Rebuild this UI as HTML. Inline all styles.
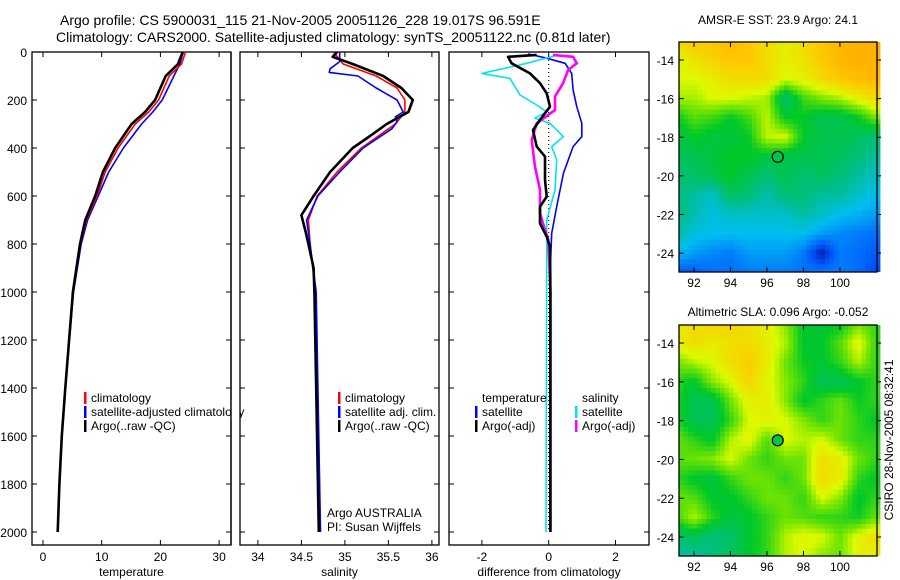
<!DOCTYPE html>
<html><head><meta charset="utf-8"><style>
html,body{margin:0;padding:0;background:#fff}
svg{display:block;font-family:"Liberation Sans",sans-serif}
text{fill:#000}
</style></head><body>
<svg id="chart" width="900" height="580" viewBox="0 0 900 580" xmlns="http://www.w3.org/2000/svg">
<text x="60" y="25" font-size="14">Argo profile: CS 5900031_115 21-Nov-2005 20051126_228 19.017S 96.591E</text>
<text x="56" y="42" font-size="14">Climatology: CARS2000. Satellite-adjusted climatology: synTS_20051122.nc (0.81d later)</text>
<text x="778" y="24" font-size="12" text-anchor="middle">AMSR-E SST: 23.9 Argo: 24.1</text>
<text x="778" y="316" font-size="12" text-anchor="middle">Altimetric SLA: 0.096 Argo: -0.052</text>
<text x="0" y="0" font-size="12" text-anchor="middle" transform="translate(893,440) rotate(-90)">CSIRO 28-Nov-2005 08:32:41</text>
<g id="g"></g>
</svg>
<script>
// ---------- data ----------
const tDepth = [0,50,100,200,250,300,400,500,600,700,800,1000,1400,1600,1800,2000];
const tArgo  = [23.8,23.0,20.9,19.1,17.4,15.1,12.3,10.2,8.9,7.2,6.3,5.1,3.8,3.2,2.8,2.5];
const tClim  = [24.3,23.6,21.5,19.7,18.0,15.7,12.8,10.6,9.2,7.4,6.4,5.1,3.8,3.2,2.8,2.5];
const tSat   = [23.9,23.3,22.3,20.3,18.7,16.8,13.7,11.2,9.4,7.6,6.5,5.2,3.8,3.2,2.8,2.5];

const sDepthArgo = [0,20,50,100,150,200,250,300,350,400,500,600,680,750,800,900,1000,1400,2000];
const sArgo      = [34.91,34.86,35.09,35.44,35.65,35.78,35.73,35.48,35.29,35.09,34.83,34.64,34.50,34.55,34.58,34.64,34.65,34.67,34.70];
const sDepthClim = [0,50,100,150,200,250,300,400,500,600,700,800,1000,2000];
const sClim      = [34.87,34.98,35.36,35.60,35.69,35.69,35.58,35.19,34.91,34.68,34.58,34.60,34.66,34.71];
const sDepthSat  = [0,40,70,85,100,150,200,250,270,290,320,400,500,600,700,800,1000,2000];
const sSat       = [34.94,34.94,34.83,34.82,35.15,35.36,35.60,35.67,35.58,35.60,35.54,35.21,34.94,34.69,34.56,34.60,34.67,34.72];

const dDepthTA = [12,20,47,89,130,172,228,283,325,394,436,533,603,644,714,769,811,1000,2000];
const dTempArgo= [-0.36,-1.22,-1.11,-0.56,-0.26,-0.06,0.04,-0.26,-0.47,-0.36,-0.11,-0.11,-0.06,-0.26,-0.26,-0.06,0.04,0.05,0.05];
const dDepthSA = [12,20,47,75,130,186,242,297,367,478,575,672,742,783,1000,2000];
const dSalArgo = [0.13,0.73,0.84,0.58,0.43,0.19,0.19,-0.36,-0.51,-0.41,-0.26,-0.26,-0.11,-0.01,0.05,0.05];
const dDepthSS = [12,47,89,110,179,221,249,276,297,353,394,450,575,700,922,2000];
const dSalSat  = [0.28,-0.66,-2.0,-1.16,-0.86,-0.36,-0.06,-0.41,0.04,0.44,0.09,0.24,0.19,-0.06,-0.06,-0.08];
const dDepthTS = [8,26,47,89,158,228,297,353,394,506,644,756,922,2000];
const dTempSat = [-0.62,-0.06,0.49,0.69,0.73,0.84,0.99,0.99,0.73,0.44,0.24,0.09,0.04,0.04];

const depthTicks = [0,200,400,600,800,1000,1200,1400,1600,1800,2000];
const tempTicks = [0,10,20,30];
const salTicks = [34,34.5,35,35.5,36];
const diffTicks = [-2,0,2];
const lonTicks = [92,94,96,98,100];
const latTicks = [-14,-16,-18,-20,-22,-24];

const sstGrid = [
[.80,.85,.85,.90,.85,.80,.75,.80,.85,.90,.92,.92],
[.72,.78,.82,.85,.85,.80,.75,.78,.85,.90,.92,.92],
[.72,.72,.75,.80,.80,.80,.72,.75,.80,.85,.88,.90],
[.68,.68,.72,.72,.70,.68,.45,.60,.65,.68,.75,.80],
[.55,.62,.60,.55,.60,.70,.55,.55,.50,.50,.55,.65],
[.50,.55,.52,.52,.55,.70,.72,.55,.50,.50,.48,.45],
[.48,.50,.52,.55,.55,.52,.50,.50,.50,.48,.45,.40],
[.45,.47,.50,.55,.50,.45,.50,.45,.48,.45,.40,.35],
[.45,.40,.35,.48,.45,.38,.45,.45,.40,.40,.35,.30],
[.45,.38,.32,.35,.35,.35,.35,.40,.35,.30,.28,.25],
[.40,.32,.30,.30,.30,.30,.30,.30,.25,.22,.20,.18],
[.30,.25,.22,.20,.25,.25,.25,.20,.05,.20,.18,.15],
[.15,.15,.18,.18,.20,.20,.20,.18,.20,.20,.18,.12]];
const slaGrid = [
[.72,.75,.78,.78,.75,.70,.62,.50,.50,.50,.60,.55],
[.70,.76,.72,.75,.76,.72,.65,.50,.50,.58,.70,.55],
[.60,.65,.68,.75,.80,.72,.60,.52,.50,.55,.65,.55],
[.55,.50,.62,.68,.78,.70,.62,.55,.45,.45,.50,.55],
[.55,.45,.45,.60,.70,.72,.62,.50,.55,.60,.52,.55],
[.55,.45,.45,.55,.68,.70,.68,.62,.55,.60,.55,.50],
[.60,.55,.50,.65,.70,.58,.68,.65,.68,.60,.55,.55],
[.58,.60,.62,.68,.60,.55,.60,.60,.75,.72,.60,.55],
[.55,.50,.48,.55,.60,.60,.55,.60,.76,.72,.55,.50],
[.60,.58,.50,.50,.55,.60,.60,.55,.68,.62,.50,.55],
[.55,.65,.55,.48,.50,.55,.60,.58,.55,.55,.52,.60],
[.42,.45,.40,.42,.50,.55,.65,.70,.68,.60,.70,.75],
[.35,.35,.40,.45,.50,.55,.65,.68,.62,.60,.70,.70]];
const gridLat0 = -13, gridLon0 = 91; // 1 degree spacing
const argoLon = 96.591, argoLat = -19.017;

// ---------- helpers ----------
const NS="http://www.w3.org/2000/svg";
const G=document.getElementById('g');
function mk(tag,attrs,parent){const e=document.createElementNS(NS,tag);for(const k in attrs)e.setAttribute(k,attrs[k]);(parent||G).appendChild(e);return e;}
const Y0=52,Y1=545;
const yD=d=>52+d*0.24;
const xT=v=>43+5.87*v;
const xS=v=>257.9+87*(v-34);
const xDf=v=>548.7+33.4*v;

function panel(name,x0,x1,ticks,xf,label,fmt){
  const r=mk('rect',{x:x0,y:Y0,width:x1-x0,height:Y1-Y0,fill:'none',stroke:'#000','stroke-width':1.3});
  
  
  ticks.forEach(t=>{const x=xf(t);
    mk('line',{x1:x,x2:x,y1:Y1,y2:Y1-5,stroke:'#000'});
    mk('line',{x1:x,x2:x,y1:Y0,y2:Y0+5,stroke:'#000'});
    const tx=mk('text',{x:x,y:561,'font-size':12,'text-anchor':'middle'});tx.textContent=fmt(t);
    
    
  });
  depthTicks.forEach(d=>{const y=yD(d);
    mk('line',{x1:x0,x2:x0+5,y1:y,y2:y,stroke:'#000'});
    mk('line',{x1:x1,x2:x1-5,y1:y,y2:y,stroke:'#000'});
  });
  const l=mk('text',{x:(x0+x1)/2,y:576,'font-size':12,'text-anchor':'middle'});l.textContent=label;
  
  
}
function line(name,depths,vals,xf,color,w){
  const p=depths.map((d,i)=>(i?'L':'M')+xf(vals[i]).toFixed(1)+','+yD(d).toFixed(1)).join('');
  const e=mk('path',{d:p,fill:'none',stroke:color,'stroke-width':w,'stroke-linejoin':'round'});
  
  
}
function legend(name,x,y,color,text){
  mk('rect',{x:x,y:y-10,width:2.5,height:12,fill:color});
  const t=mk('text',{x:x+7,y:y,'font-size':12});t.textContent=text;
  
  
}
function txt(name,x,y,s,anchor){const t=mk('text',{x:x,y:y,'font-size':12,'text-anchor':anchor||'start'});t.textContent=s;
  
  }

depthTicks.forEach(d=>txt('depth-tick-label',27,yD(d)+5,String(d),'end'));

panel('temperature-panel',32,231,tempTicks,xT,'temperature',String);
line('temp-satellite-line',tDepth,tSat,xT,'#0000ff',1.6);
line('temp-climatology-line',tDepth,tClim,xT,'#ff0000',1.6);
line('temp-argo-line',tDepth,tArgo,xT,'#000',2.6);
legend('legend-climatology',84,402,'#ff0000','climatology');
legend('legend-satellite-adjusted',84,416,'#0000ff','satellite-adjusted climatology');
mk('rect',{x:231.7,y:400,width:8,height:20,fill:'#fff'});
mk('line',{x1:231,x2:231,y1:Y0,y2:Y1,stroke:'#000','stroke-width':1.3});
legend('legend-argo',84,430,'#000','Argo(..raw -QC)');

panel('salinity-panel',240,439,salTicks,xS,'salinity',String);
line('sal-climatology-line',sDepthClim,sClim,xS,'#ff0000',1.6);
line('sal-satellite-line',sDepthSat,sSat,xS,'#0000ff',1.6);
line('sal-argo-line',sDepthArgo,sArgo,xS,'#000',2.6);
legend('legend-sal-climatology',338,402,'#ff0000','climatology');
legend('legend-sal-satellite',338,416,'#0000ff','satellite adj. clim.');
legend('legend-sal-argo',338,430,'#000','Argo(..raw -QC)');
txt('argo-australia-label',327,517,'Argo AUSTRALIA');
txt('pi-label',327,531,'PI: Susan Wijffels');

panel('difference-panel',449,649,diffTicks,xDf,'difference from climatology',String);
mk('line',{x1:xDf(0),x2:xDf(0),y1:Y0,y2:yD(2000),stroke:'#000','stroke-dasharray':'1,3'});
line('diff-temp-satellite-line',dDepthTS,dTempSat,xDf,'#0000ff',1.6);
line('diff-sal-satellite-line',dDepthSS,dSalSat,xDf,'#00e5ee',1.6);
line('diff-sal-argo-line',dDepthSA,dSalArgo,xDf,'#ff00ff',2.6);
line('diff-temp-argo-line',dDepthTA,dTempArgo,xDf,'#000',2.6);
txt('legend-temperature-header',482,402,'temperature');
legend('legend-diff-temp-satellite',475,416,'#0000ff','satellite');
legend('legend-diff-temp-argo',475,430,'#000','Argo(-adj)');
txt('legend-salinity-header',582,402,'salinity');
legend('legend-diff-sal-satellite',575,416,'#00e5ee','satellite');
legend('legend-diff-sal-argo',575,430,'#ff00ff','Argo(-adj)');

// ---------- maps ----------
const stops=[[0,[0,0,140]],[.15,[0,90,255]],[.3,[0,190,240]],[.42,[0,190,140]],[.55,[0,200,40]],[.65,[120,230,0]],[.72,[220,250,0]],[.85,[255,200,0]],[1,[255,150,0]]];
function cmap(v){v=Math.max(0,Math.min(1,v));for(let i=1;i<stops.length;i++){if(v<=stops[i][0]){const a=stops[i-1],b=stops[i],f=(v-a[0])/(b[0]-a[0]);return 'rgb('+a[1].map((c,k)=>Math.round(c+(b[1][k]-c)*f)).join(',')+')';}}return 'rgb(255,150,0)';}
function sample(grid,lon,lat){
  let c=lon-gridLon0,r=gridLat0-lat;
  c=Math.max(0,Math.min(grid[0].length-1.001,c));r=Math.max(0,Math.min(grid.length-1.001,r));
  const c0=Math.floor(c),r0=Math.floor(r),fc=c-c0,fr=r-r0;
  return grid[r0][c0]*(1-fc)*(1-fr)+grid[r0][c0+1]*fc*(1-fr)+grid[r0+1][c0]*(1-fc)*fr+grid[r0+1][c0+1]*fc*fr;
}
function map(name,top,bottom,grid,filledDot,offset){
  const left=679,right=877,lonA=91.18,lonB=102.03,latA=-13.07,latB=-24.98;
  const xL=lo=>left+(lo-lonA)*(right-left)/(lonB-lonA);
  const yL=la=>top+(latA-la)*(bottom-top)/(latA-latB);
  const g=mk('g',{});
  
  
  const step=0.25;
  for(let la=latA;la>latB-step;la-=step){
    for(let lo=lonA;lo<lonB;lo+=step){
      const x=xL(lo),y=yL(la),w=xL(lo+step)-x+0.6,h=yL(la-step)-y+0.6;
      mk('rect',{x:x.toFixed(1),y:y.toFixed(1),width:w.toFixed(1),height:Math.min(h,bottom-y).toFixed(1),fill:cmap(sample(grid,lo+step/2,la-step/2)+offset)},g);
    }
  }
  mk('rect',{x:left,y:top,width:right-left,height:bottom-top,fill:'none',stroke:'#000','stroke-width':1.3});
  lonTicks.forEach(t=>{const x=xL(t);mk('line',{x1:x,x2:x,y1:bottom,y2:bottom-5,stroke:'#000'});mk('line',{x1:x,x2:x,y1:top,y2:top+5,stroke:'#000'});
    txt(name+'-lon-label',x,bottom+15,String(t),'middle');});
  latTicks.forEach(t=>{const y=yL(t);mk('line',{x1:left,x2:left+5,y1:y,y2:y,stroke:'#000'});mk('line',{x1:right,x2:right+4,y1:y,y2:y,stroke:'#000'});
    txt(name+'-lat-label',674,y+5,String(t),'end');});
  const c=mk('circle',{cx:xL(argoLon),cy:yL(argoLat),r:5.5,fill:filledDot?cmap(0.5):'none',stroke:'#000','stroke-width':1.2});
  
  
}
map('sst-map',42,272,sstGrid,false,0);
map('sla-map',325,556,slaGrid,true,0.04);
</script>
</body></html>
